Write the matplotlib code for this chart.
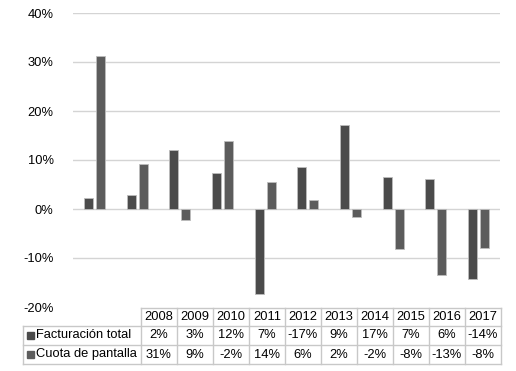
import numpy as np
import matplotlib
matplotlib.use('Agg')
import matplotlib.pyplot as plt
from matplotlib.patches import Rectangle

plt.rcParams['font.family'] = ['Liberation Sans', 'DejaVu Sans']

years = ['2008', '2009', '2010', '2011', '2012', '2013', '2014', '2015', '2016', '2017']
facturacion = [2.2, 2.9, 12.0, 7.4, -17.4, 8.6, 17.1, 6.5, 6.1, -14.3]
cuota = [31.3, 9.1, -2.2, 13.8, 5.6, 1.8, -1.7, -8.1, -13.5, -7.9]
fact_labels = ['2%', '3%', '12%', '7%', '-17%', '9%', '17%', '7%', '6%', '-14%']
cuota_labels = ['31%', '9%', '-2%', '14%', '6%', '2%', '-2%', '-8%', '-13%', '-8%']
series_names = ['Facturación total', 'Cuota de pantalla']

C_FACT = '#4b4b4b'
C_CUOTA = '#5c5c5c'
GRID = '#d4d4d4'
TBL = '#c8c8c8'
FS = 9.3

W, H = 516, 371
fig = plt.figure(figsize=(W / 100, H / 100), dpi=100)

# chart area (pixel box 73..500 x 13..307)
ax = fig.add_axes([73 / W, 1 - 307 / H, 427 / W, 294 / H])
x = np.arange(len(years))
ax.bar(x - 0.14, facturacion, 0.21, color=C_FACT, edgecolor='#bdbdbd', lw=0.6, zorder=3)
ax.bar(x + 0.14, cuota, 0.21, color=C_CUOTA, edgecolor='#bdbdbd', lw=0.6, zorder=3)
ax.set_xlim(-0.5, len(years) - 0.5)
ax.set_ylim(-20, 40)
ax.set_yticks(range(-20, 41, 10))
ax.set_yticklabels([f'{v}%' for v in range(-20, 41, 10)], fontsize=FS)
for v in range(-10, 41, 10):
    ax.axhline(v, color=GRID, lw=1, zorder=1)
ax.set_xticks([])
ax.tick_params(axis='y', length=0, pad=14)
for s in ax.spines.values():
    s.set_visible(False)

# data table (pixel box 23..501 x 308..364)
tax = fig.add_axes([23 / W, 1 - 364 / H, 478 / W, 56 / H])
tax.set_xlim(0, 478)
tax.set_ylim(56, 0)
tax.axis('off')
lab_w, col_w = 118, 36
rows = [0, 18, 37, 56]
xs = [lab_w + col_w * i for i in range(len(years) + 1)]
kw = dict(color=TBL, lw=1, clip_on=False)
tax.plot([xs[0], xs[-1]], [rows[0], rows[0]], **kw)
for r in rows[1:]:
    tax.plot([0, xs[-1]], [r, r], **kw)
for xv in xs:
    tax.plot([xv, xv], [rows[0], rows[-1]], **kw)
tax.plot([0, 0], [rows[1], rows[-1]], **kw)

for i, yr in enumerate(years):
    cx = xs[i] + col_w / 2
    tax.text(cx, (rows[0] + rows[1]) / 2, yr, ha='center', va='center', fontsize=FS)
    tax.text(cx, (rows[1] + rows[2]) / 2, fact_labels[i], ha='center', va='center', fontsize=FS)
    tax.text(cx, (rows[2] + rows[3]) / 2, cuota_labels[i], ha='center', va='center', fontsize=FS)

for k, (name, col) in enumerate(zip(series_names, [C_FACT, C_CUOTA])):
    yc = (rows[k + 1] + rows[k + 2]) / 2
    tax.add_patch(Rectangle((4, yc - 3.5), 7, 7, color=col, clip_on=False))
    tax.text(13.5, yc, name, ha='left', va='center', fontsize=FS)

fig.savefig('out.png', dpi=100)
